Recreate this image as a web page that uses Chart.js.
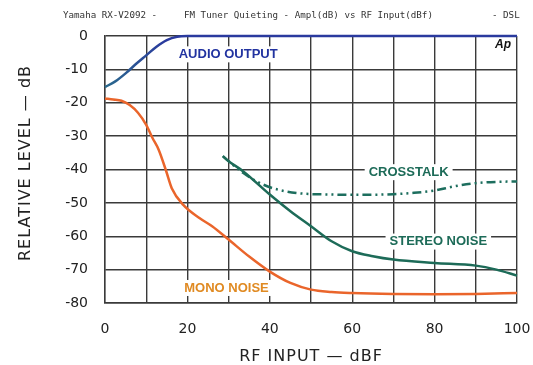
<!DOCTYPE html>
<html><head><meta charset="utf-8">
<script src="https://cdn.jsdelivr.net/npm/chart.js@4.4.1/dist/chart.umd.min.js"></script>
<style>html,body{margin:0;padding:0;background:#fff}#wrap{width:533px;height:365px}</style>
</head><body><div id="wrap"><canvas id="c" width="533" height="365"></canvas></div>
<script>
const xTicks = [0, 20, 40, 60, 80, 100];
const yTicks = [0, -10, -20, -30, -40, -50, -60, -70, -80];

const audioX = [0, 2.5, 5, 7.5, 10, 12.5, 15, 17.5, 20, 25, 100];
const audioY = [-15.3, -13.6, -11.2, -8.4, -5.8, -3.2, -1.2, -0.2, 0, 0, 0];

const monoX = [0, 2, 4, 6, 8, 10, 11.5, 13, 14.8, 16.2, 19, 23, 26, 30, 35, 40, 45, 50, 55, 60, 70, 80, 90, 100];
const monoY = [-18.7, -19, -19.4, -20.7, -23, -26.6, -30.5, -34, -40.3, -45.6, -50.6, -54.6, -57, -61, -66.1, -70.6, -74, -76, -76.7, -77, -77.3, -77.4, -77.3, -77];

const stereoX = [28.6, 30, 33.5, 40, 45, 50, 55, 60, 65, 70, 80, 90, 95, 100];
const stereoY = [-36, -37.5, -40.5, -47.5, -52.5, -57, -61.5, -64.5, -66, -67, -68, -68.8, -70, -71.8];

const crossX = [28.6, 30, 33.5, 37, 41, 47, 55, 60, 70, 75, 80, 85, 90, 95, 100];
const crossY = [-36, -37.5, -41, -43.7, -45.7, -47.1, -47.5, -47.6, -47.4, -47, -46.3, -45, -44.1, -43.7, -43.6];

const seriesLabels = ['AUDIO OUTPUT', 'MONO NOISE', 'STEREO NOISE', 'CROSSTALK'];
// label anchors in data units
const labelAnchors = [
  {text: 'AUDIO OUTPUT', x: 29.9, y: -5.5, color: '#2233a0'},
  {text: 'MONO NOISE', x: 29.5, y: -75.5, color: '#e08a22'},
  {text: 'STEREO NOISE', x: 80.9, y: -61.6, color: '#1d6b58'},
  {text: 'CROSSTALK', x: 73.7, y: -40.8, color: '#1d6b58'}
];

const pts = (xs, ys) => xs.map((x, i) => ({x: x, y: ys[i]}));

const annot = {
  id: 'annot',
  afterDatasetsDraw(chart) {
    const ctx = chart.ctx, xs = chart.scales.x, ys = chart.scales.y, ca = chart.chartArea;
    ctx.save();
    ctx.font = 'bold 13px "Liberation Sans", Arial, sans-serif';
    ctx.textAlign = 'center';
    ctx.textBaseline = 'middle';
    labelAnchors.forEach(a => {
      const px = xs.getPixelForValue(a.x), py = ys.getPixelForValue(a.y);
      const w = ctx.measureText(a.text).width;
      ctx.fillStyle = '#fff';
      ctx.fillRect(px - w / 2 - 4, py - 8, w + 8, 16);
      ctx.fillStyle = a.color;
      ctx.fillText(a.text, px, py);
    });
    // Ap logo
    ctx.font = 'italic bold 12px "Liberation Sans", Arial, sans-serif';
    ctx.fillStyle = '#111';
    ctx.fillText('Ap', ca.right - 14, ca.top + 9);
    ctx.restore();
  },
  afterDraw(chart) {
    const ctx = chart.ctx, ca = chart.chartArea;
    ctx.save();
    ctx.fillStyle = '#333';
    ctx.textBaseline = 'middle';
    ctx.textAlign = 'left';
    ctx.font = '9.2px "DejaVu Sans Mono", monospace';
    ctx.fillText('Yamaha RX-V2092 -', 63, 16);
    ctx.fillText('FM Tuner Quieting - Ampl(dB) vs RF Input(dBf)', 184, 16);
    ctx.fillText('- DSL', 492, 16);
    // axis titles
    ctx.fillStyle = '#222';
    ctx.font = '16px "DejaVu Sans", sans-serif';
    ctx.textAlign = 'center';
    try { ctx.letterSpacing = '1px'; } catch (e) {}
    ctx.fillText('RF INPUT — dBF', (ca.left + ca.right) / 2, 357);
    ctx.save();
    ctx.translate(26, 163);
    ctx.rotate(-Math.PI / 2);
    ctx.fillText('RELATIVE LEVEL — dB', 0, 0);
    ctx.restore();
    ctx.restore();
  }
};

new Chart(document.getElementById('c'), {
  type: 'line',
  data: {
    datasets: [
      {label: seriesLabels[0], data: pts(audioX, audioY), borderColor: (c) => {
          const a = c.chart.chartArea; if (!a) return '#2b3c9e';
          const g = c.chart.ctx.createLinearGradient(a.left, 0, a.left + 60, 0);
          g.addColorStop(0, '#2a6a8c'); g.addColorStop(1, '#2a3a9e'); return g; },
        borderWidth: 2.5, pointRadius: 0, cubicInterpolationMode: 'monotone', clip: 6},
      {label: seriesLabels[1], data: pts(monoX, monoY), borderColor: '#ea652b', borderWidth: 2.5, pointRadius: 0, cubicInterpolationMode: 'monotone', clip: 6},
      {label: seriesLabels[2], data: pts(stereoX, stereoY), borderColor: '#1d6b58', borderWidth: 2.5, pointRadius: 0, cubicInterpolationMode: 'monotone', clip: 6},
      {label: seriesLabels[3], data: pts(crossX, crossY), borderColor: '#1d6e5e', borderWidth: 2.5, borderDash: [9, 4, 2, 4, 2, 4], pointRadius: 0, cubicInterpolationMode: 'monotone', clip: 6}
    ]
  },
  options: {
    responsive: false,
    animation: false,
    layout: {padding: {left: 0, right: 0, top: 36, bottom: 0}},
    plugins: {legend: {display: false}, tooltip: {enabled: false}, title: {display: false}},
    scales: {
      x: {
        type: 'linear', min: 0, max: 100,
        afterFit: (s) => { s.height = 62; s.paddingRight = 16; s.paddingLeft = 0; },
        ticks: {stepSize: 10, padding: 18, color: '#222', font: {family: '"DejaVu Sans", sans-serif', size: 14},
          callback: (v) => xTicks.includes(v) ? String(v) : ''},
        grid: {color: '#3a3a3a', lineWidth: 1.4, drawTicks: false},
        border: {color: '#3a3a3a', width: 1.4}
      },
      y: {
        type: 'linear', min: -80, max: 0,
        afterFit: (s) => { s.width = 105; },
        ticks: {stepSize: 10, padding: 17, color: '#222', font: {family: '"DejaVu Sans", sans-serif', size: 14},
          callback: (v) => yTicks.includes(v) ? String(v) : ''},
        grid: {color: '#3a3a3a', lineWidth: 1.4, drawTicks: false},
        border: {color: '#3a3a3a', width: 1.4}
      }
    }
  },
  plugins: [annot]
});
</script></body></html>
